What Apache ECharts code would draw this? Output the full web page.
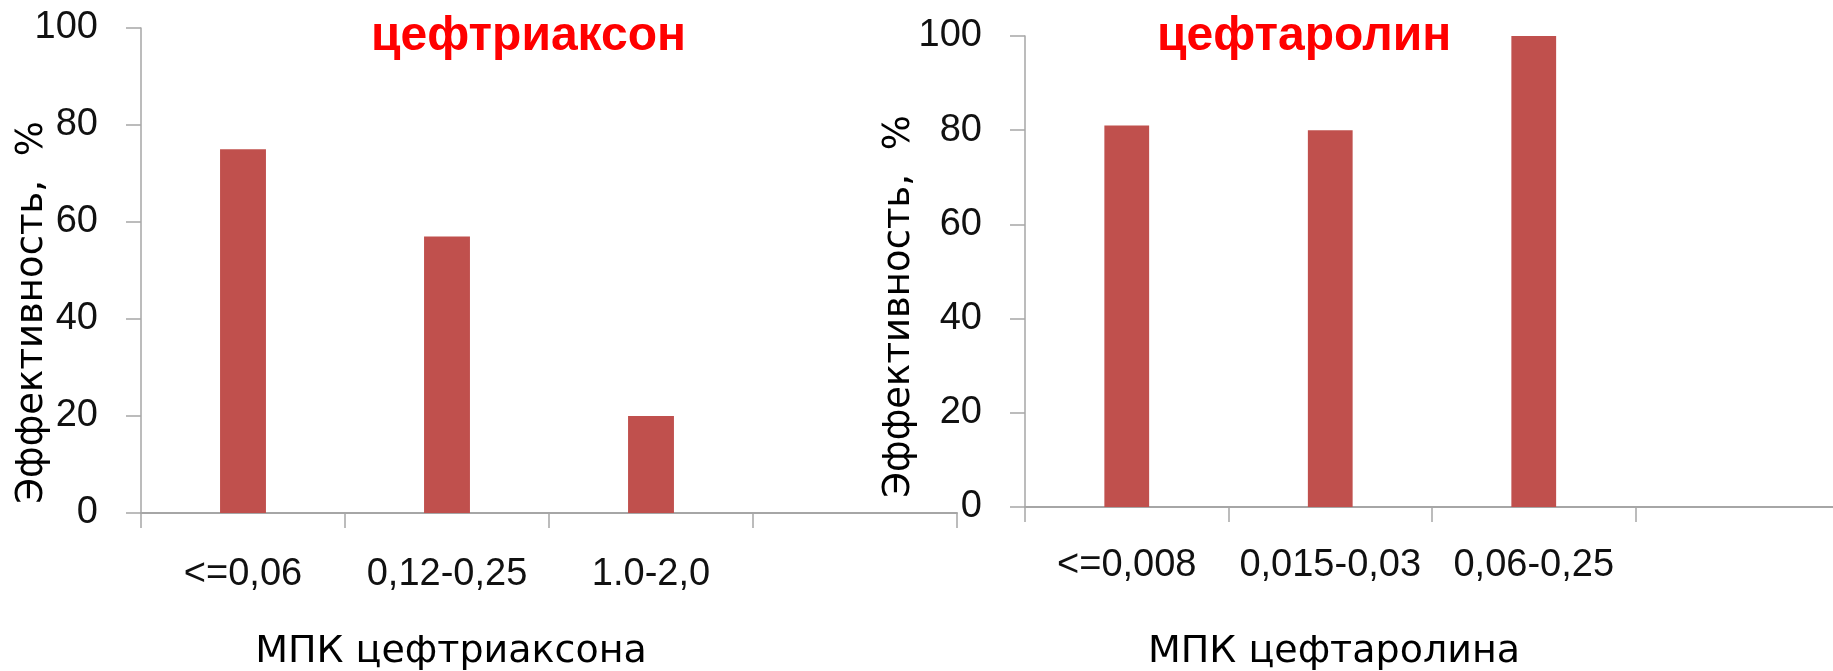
<!DOCTYPE html>
<html>
<head>
<meta charset="utf-8">
<title>Эффективность по МПК</title>
<script src="https://cdn.jsdelivr.net/npm/echarts@6/dist/echarts.min.js"></script>
<style>
  html, body { margin: 0; padding: 0; background: #ffffff; }
  #chart { width: 1833px; height: 671px; }
</style>
</head>
<body>
<div id="chart"></div>
<script>
// Ceftriaxone: MIC ranges and efficacy, % (last slot is an empty category)
const ceftriaxoneMic = ['<=0,06', '0,12-0,25', '1.0-2,0', ''];
const ceftriaxoneEff = [75, 57, 20, null];

// Ceftaroline: MIC ranges and efficacy, %
const ceftarolineMic = ['<=0,008', '0,015-0,03', '0,06-0,25', ''];
const ceftarolineEff = [81, 80, 100, null];

// Titles and axis names
const panelTitles = ['цефтриаксон', 'цефтаролин'];
const xNames = ['МПК цефтриаксона', 'МПК цефтаролина'];
const yName = 'Эффективность,  %';

const BAR = '#C0504D';
const AXIS = '#A6A6A6';
const numFont = '"Liberation Sans", Arial, sans-serif';
const textFont = '"DejaVu Sans", Arial, sans-serif';

function xAxisFor(i, cats, labelMargin, nameGap, shiftPad) {
  return {
    type: 'category',
    gridIndex: i,
    data: cats,
    boundaryGap: true,
    axisLine: { show: true, lineStyle: { color: AXIS, width: 2 } },
    axisTick: { show: true, length: 15, inside: false, lineStyle: { color: AXIS, width: 1.5 } },
    axisLabel: {
      interval: 0, margin: labelMargin, color: '#111',
      fontFamily: numFont, fontSize: 38, lineHeight: 38
    },
    splitLine: { show: false },
    name: xNames[i],
    nameLocation: 'middle',
    nameGap: nameGap,
    nameMoveOverlap: false,
    nameTextStyle: {
      fontFamily: textFont, fontSize: 38, lineHeight: 38, color: '#000',
      padding: [0, shiftPad, 0, 0]
    }
  };
}

function yAxisFor(i, nameGap, shiftPad) {
  return {
    type: 'value',
    gridIndex: i,
    min: 0, max: 100, interval: 20,
    axisLine: { show: true, lineStyle: { color: AXIS, width: 1.5 } },
    axisTick: { show: true, length: 15, inside: false, lineStyle: { color: AXIS, width: 1.5 } },
    axisLabel: {
      margin: 43, color: '#111',
      fontFamily: numFont, fontSize: 38, lineHeight: 38
    },
    splitLine: { show: false },
    name: yName,
    nameLocation: 'middle',
    nameGap: nameGap,
    nameMoveOverlap: false,
    nameTextStyle: {
      fontFamily: textFont, fontSize: 37, lineHeight: 37, color: '#000',
      padding: [0, shiftPad, 0, 0]
    }
  };
}

const chart = echarts.init(document.getElementById('chart'), null, { renderer: 'canvas' });

const titleStyle = {
  color: '#FF0000', fontFamily: numFont, fontWeight: 'bold', fontSize: 48, lineHeight: 48
};

chart.setOption({
  animation: false,
  backgroundColor: '#ffffff',
  title: [
    { text: panelTitles[0], left: 371, top: 13, padding: 0, textStyle: titleStyle },
    { text: panelTitles[1], left: 1157, top: 13, padding: 0, textStyle: titleStyle }
  ],
  grid: [
    { left: 141, top: 28, width: 816, height: 485, containLabel: false, outerBoundsMode: 'none' },
    { left: 1025, top: 36, width: 814, height: 471, containLabel: false, outerBoundsMode: 'none' }
  ],
  xAxis: [
    xAxisFor(0, ceftriaxoneMic, 43, 120, 196),
    xAxisFor(1, ceftarolineMic, 40, 126, 196)
  ],
  yAxis: [
    yAxisFor(0, 90, 84),
    yAxisFor(1, 107, 70)
  ],
  series: [
    {
      type: 'bar', xAxisIndex: 0, yAxisIndex: 0,
      data: ceftriaxoneEff, barWidth: '22.5%',
      itemStyle: { color: BAR }
    },
    {
      type: 'bar', xAxisIndex: 1, yAxisIndex: 1,
      data: ceftarolineEff, barWidth: '22%',
      itemStyle: { color: BAR }
    }
  ]
});
</script>
</body>
</html>
